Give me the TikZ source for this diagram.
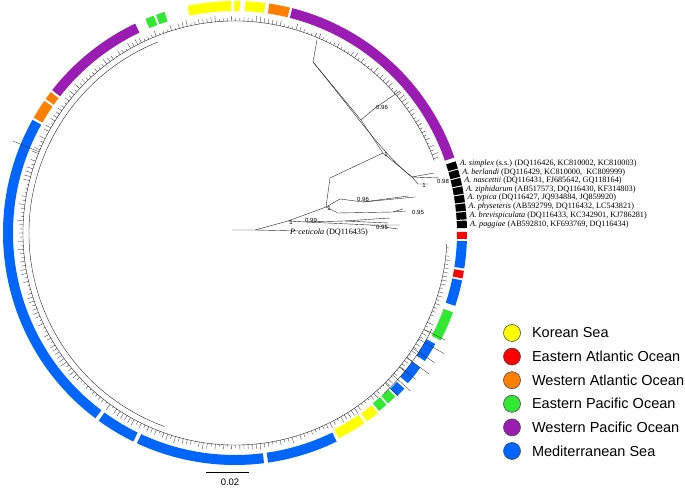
\documentclass[tikz,border=0pt]{standalone}
\usepackage{fontspec}
\setmainfont{Liberation Serif}
\setsansfont{Liberation Sans}
\usetikzlibrary{positioning}
\definecolor{korea}{RGB}{255,255,0}
\definecolor{eatl}{RGB}{255,0,0}
\definecolor{watl}{RGB}{255,128,0}
\definecolor{epac}{RGB}{51,232,51}
\definecolor{wpac}{RGB}{155,28,178}
\definecolor{medi}{RGB}{0,102,255}

% one coloured block of the ring: [radial shift]{colour}{from}{to}
\newcommand{\ringseg}[4][0]{%
  \pgfmathsetmacro\rin{222+#1}\pgfmathsetmacro\rout{232+#1}%
  \fill[#2] (#3:\rin) arc[start angle=#3, end angle=#4, radius=\rin]
    -- (#4:\rout) arc[start angle=#4, end angle=#3, radius=\rout] -- cycle;}

\begin{document}
\begin{tikzpicture}[x=1pt, y=1pt, line width=0.45pt]
  % Styles
  \tikzset{branch/.style={draw=black!85, line width=0.4pt}}
  \tikzset{boot/.style={font=\sffamily\fontsize{6}{6}\selectfont, inner sep=0.5pt}}
  \tikzset{taxon/.style={anchor=west, inner sep=0pt, font=\fontsize{8.2}{9}\selectfont}}
  \tikzset{legdot/.style={circle, draw=black!70, line width=0.6pt, minimum size=17pt, inner sep=0pt}}
  \tikzset{legtxt/.style={anchor=west, inner sep=0pt, font=\sffamily\fontsize{14.5}{16}\selectfont}}
  \useasboundingbox (0,0) rectangle (685,487);

  % --- ring of sampling regions and the ingroup tips ---
  \begin{scope}[shift={(235,254)}]
    % colour blocks, anticlockwise from the outgroup
    \ringseg{eatl}{-1.5}{0.3}
    \ringseg{medi}{-8.8}{-2.0}
    \ringseg{eatl}{-11.3}{-9.4}
    \ringseg{medi}{-18.3}{-11.8}
    \ringseg{epac}{-27.6}{-20.0}
    \ringseg[-3]{medi}{-34}{-29}
    \ringseg[-3]{medi}{-41}{-36}
    \ringseg[-2]{medi}{-45.1}{-42.6}
    \ringseg[-3]{epac}{-48.1}{-45.6}
    \ringseg[-3]{epac}{-51.0}{-48.6}
    \ringseg[-2]{korea}{-55.0}{-51.6}
    \ringseg[-2]{korea}{-63.2}{-55.8}
    \ringseg{medi}{-81.8}{-64}
    \ringseg{medi}{-115}{-82.8}
    \ringseg{medi}{-126}{-116}
    \ringseg{medi}{150.8}{233}
    \ringseg{watl}{145.3}{150.2}
    \ringseg{watl}{142.6}{144.7}
    \ringseg{wpac}{115.5}{142.0}
    \ringseg{epac}{110.5}{112.7}
    \ringseg{epac}{107.7}{109.9}
    \ringseg{korea}{90.9}{101.8}
    \ringseg{korea}{88.8}{90.2}
    \ringseg{korea}{82.5}{87.4}
    \ringseg{watl}{76.3}{81.5}
    \ringseg{wpac}{19.0}{75.7}

    % outgroup squares and their names
    \foreach \i/\sp/\acc in {%
      0/simplex/{(s.s.) (DQ116426, KC810002, KC810003)},
      1/berlandi/{(DQ116429, KC810000,\ \ KC809999)},
      2/nascettii/{(DQ116431, FJ685642, GQ118164)},
      3/ziphidarum/{(AB517573, DQ116430, KF314803)},
      4/typica/{(DQ116427, JQ934884, JQ859920)},
      5/physeteris/{(AB592799, DQ116432, LC543821)},
      6/brevispiculata/{(DQ116433, KC342901, KJ786281)},
      7/paggiae/{(AB592810, KF693769, DQ116434)}} {
      \pgfmathsetmacro\ta{18-2.13*\i}
      \pgfmathsetmacro\tb{\ta-1.85}
      \pgfmathsetmacro\tm{\ta-0.92}
      \ringseg{black}{\tb}{\ta}
      \node[taxon] (sp\i) at (\tm:235) {\textit{A. \sp} \acc};
    }

    % backbone of the ingroup and its tips
    \draw[branch] (20:212) arc[start angle=20, end angle=357, radius=212];
    \draw[branch] (112:206) arc[start angle=112, end angle=250, radius=206];
    \pgfmathsetseed{11}
    \foreach \a in {20.5,21.6,...,356.5} {
      \pgfmathsetmacro\l{213.5+5.5*rnd}
      \draw[branch, line width=0.3pt] (\a:212) -- (\a:\l);
    }
    % a few long tips in the lower right
    \draw[branch] (-47:219) arc[start angle=-47, end angle=-26, radius=219];
    \foreach \a/\l in {-27/236, -30/241, -33/238, -36/240, -39/233, -42/236, -45/231} {
      \draw[branch, line width=0.3pt] (\a:212) -- (\a:\l);
    }
    \draw[branch, line width=0.3pt] (157.5:212) -- (157.5:240);
  \end{scope}

  % --- outgroup subtree ---
  \coordinate (root) at (232,257);
  \coordinate (nA) at (255,257);
  \coordinate (ceti) at (300,256);
  \coordinate (nB) at (288,266);
  \coordinate (nC) at (326,280);
  \coordinate (nD) at (306,265);
  \coordinate (nCtop) at (330,309);
  \coordinate (nE) at (383,334);
  \coordinate (nW) at (361,367);
  \coordinate (nF) at (313,425);
  \coordinate (stem) at (317,447);
  \coordinate (nG) at (412,310);
  \coordinate (nH) at (375,379);
  \draw[branch] (root) -- (nA) -- (ceti);
  \draw[branch] (nA) -- (nB) -- (nC) -- (nCtop) -- (nE) -- (nW) -- (nF) -- (stem);
  \draw[branch] (nW) -- (nH) -- (400,396);
  \draw[branch] (nF) .. controls (350,380) and (385,330) .. (nG);
  \draw[branch] (nE) -- (nG) -- (434,314);
  \draw[branch] (nG) -- (439,309);
  \draw[branch] (nG) -- (418,303) -- (428,303);
  \draw[branch] (nB) -- (nD) -- (345,266) -- (390,269);
  \draw[branch] (345,266) -- (388,264);
  \draw[branch] (nD) -- (370,262) -- (400,262);
  \draw[branch] (370,262) -- (398,258);
  \draw[branch] (nC) -- (340,288) -- (363,285) -- (408,291);
  \draw[branch] (363,285) -- (415,290);
  \draw[branch] (nC) -- (338,274) -- (393,275) -- (403,278);
  \draw[branch] (393,275) -- (406,276);
  \node[font=\fontsize{8.2}{9}\selectfont, anchor=west, inner sep=0pt] (cetilab) at (290,254) {\textit{P. ceticola} (DQ116435)};

  % support values
  \node[boot] (b1) at (382,380) {0.96};
  \node[boot] (b2) at (386,333) {1};
  \node[boot] (b3) at (443,306) {0.98};
  \node[boot] (b4) at (424,302) {1};
  \node[boot] (b5) at (363,288) {0.96};
  \node[boot] (b6) at (329,279) {1};
  \node[boot] (b7) at (291,265) {1};
  \node[boot] (b8) at (311,267) {0.99};
  \node[boot] (b9) at (418,275) {0.95};
  \node[boot] (b10) at (382,260) {0.95};

  % --- legend ---
  \foreach \i/\col/\txt in {0/korea/Korean Sea, 1/eatl/Eastern Atlantic Ocean,
      2/watl/Western Atlantic Ocean, 3/epac/Eastern Pacific Ocean,
      4/wpac/Western Pacific Ocean, 5/medi/Mediterranean Sea} {
    \node[legdot, fill=\col] (dot\i) at (512,154-23.6*\i) {};
    \node[legtxt, right=11pt of dot\i] (lab\i) {\txt};
  }

  % --- scale bar ---
  \coordinate (sbl) at (206,15);
  \coordinate (sbr) at (249,15);
  \draw[line width=0.5pt] (sbl) -- (sbr);
  \node[font=\sffamily\fontsize{9.5}{10}\selectfont] (sbtxt) at (230,5) {0.02};
\end{tikzpicture}
\end{document}
